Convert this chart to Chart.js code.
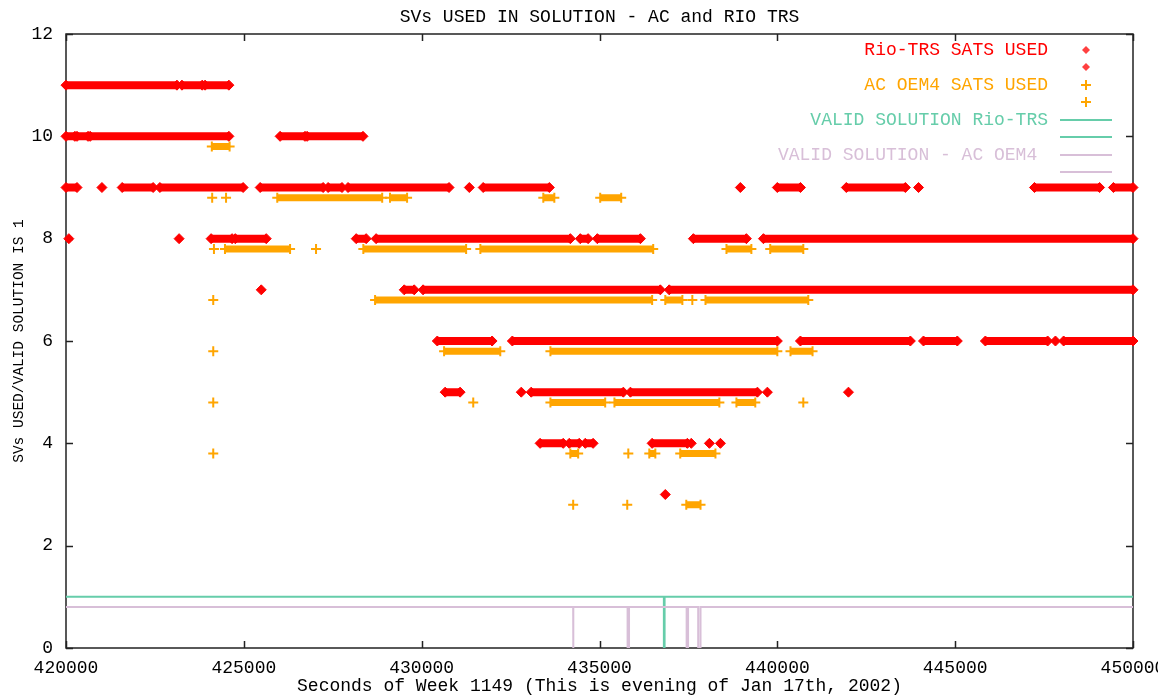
<!DOCTYPE html>
<html>
<head>
<meta charset="utf-8">
<title>SVs USED IN SOLUTION - AC and RIO TRS</title>
<script src="https://cdn.jsdelivr.net/npm/chart.js@4.4.1/dist/chart.umd.min.js"></script>
<style>
  html, body { margin: 0; padding: 0; background: #fff; }
  #wrap { width: 1158px; height: 698px; }
</style>
</head>
<body>
<div id="wrap"><canvas id="svChart" width="1158" height="698"></canvas></div>
<script>
// axis ticks
const xTicks = [420000, 425000, 430000, 435000, 440000, 445000, 450000];
const yTicks = [0, 2, 4, 6, 8, 10, 12];

// Rio-TRS sats used: one list of [start, end] runs (or [t] for a lone sample) per level
const rioLevels = [11, 10, 9, 8, 7, 6, 5, 4, 3];
const rioRuns = [
  [[420000, 423120], [423260, 423830], [423910, 424580]],
  [[420000, 420250], [420310, 420620], [420680, 424580], [426020, 426720], [426780, 428350]],
  [[420000, 420310], [421010], [421580, 422450], [422640, 424980], [425460, 427230], [427370, 427760],
   [427930, 430770], [431340], [431730, 433590], [438960], [440000, 440650], [441940, 443600],
   [443970], [447230, 449060], [449450, 450000]],
  [[420080], [423180], [424080, 424670], [424760, 425630], [428160, 428440], [428720, 434180],
   [434460, 434680], [434940, 436150], [437640, 439130], [439610, 450000]],
  [[425490], [429510, 429790], [430040, 436710], [436960, 450000]],
  [[430440, 431980], [432550, 440000], [440650, 443740], [444110, 445060], [445850, 447600],
   [447820], [448050, 450000]],
  [[430660, 431080], [432800], [433080, 435670], [435870, 439440], [439720], [442000]],
  [[433330, 433980], [434150, 434430], [434600, 434820], [436480, 437470], [437580], [438090], [438400]],
  [[436850]]
];

// AC OEM4 sats used (plotted 0.2 below the integer count)
const acLevels = [9.8, 8.8, 7.8, 6.8, 5.8, 4.8, 3.8, 2.8];
const acRuns = [
  [[424100, 424600]],
  [[424110], [424500], [425940, 428890], [429110, 429590], [433420, 433730], [435020, 435610]],
  [[424160], [424470, 426300], [427030], [428360, 431250], [431650, 436510], [438570, 439270], [439800, 440730]],
  [[424140], [428690, 436480], [436850, 437330], [437610], [437980, 440870]],
  [[424140], [430630, 432210], [433620, 440000], [440370, 440990]],
  [[424140], [431450], [433620, 435160], [435420, 438370], [438850, 439380], [440730]],
  [[424140], [434180, 434400], [435810], [436400, 436570], [437270, 438260]],
  [[434260], [435780], [437440, 437840]]
];

// valid solution flags: level while valid, drops to 0 inside these intervals
const rioValidLevel = 1;
const rioValidDrops = [[436810, 436830]];
const acValidLevel = 0.8;
const acValidDrops = [[434260, 434265], [435790, 435830], [437450, 437490], [437775, 437840]];

const legendLabels = ["Rio-TRS SATS USED", "AC OEM4 SATS USED", "VALID SOLUTION Rio-TRS", "VALID SOLUTION - AC OEM4 "];

const RED = "#ff0000";
const ORANGE = "#ffa500";
const GREEN = "#66cdaa";
const PURPLE = "#d8bfd8";
const FONT = "'Liberation Mono', 'DejaVu Sans Mono', monospace";

const runsToPoints = (levels, runs) => {
  const pts = [];
  levels.forEach((y, i) => {
    runs[i].forEach((r) => {
      const a = r[0];
      const b = r.length > 1 ? r[1] : r[0];
      pts.push({ x: a, y: y });
      if (b !== a) pts.push({ x: b, y: y });
      pts.push({ x: b, y: null });
    });
  });
  return pts;
};

const stepPoints = (level, drops) => {
  const pts = [{ x: xTicks[0], y: level }];
  drops.forEach((d) => {
    pts.push({ x: d[0], y: level }, { x: d[0], y: 0 }, { x: d[1], y: 0 }, { x: d[1], y: level });
  });
  pts.push({ x: xTicks[xTicks.length - 1], y: level });
  return pts;
};

// border, inward ticks, title and key the way gnuplot draws them
const gnuplotFrame = {
  id: "gnuplotFrame",
  beforeDraw(chart) {
    const ctx = chart.ctx;
    ctx.save();
    ctx.fillStyle = "#fff";
    ctx.fillRect(0, 0, chart.width, chart.height);
    ctx.restore();
  },
  beforeDatasetsDraw(chart) {
    const { ctx, chartArea: a, scales } = chart;
    const tl = 7;
    ctx.save();
    ctx.strokeStyle = "#222";
    ctx.lineWidth = 1.5;
    ctx.strokeRect(a.left, a.top, a.right - a.left, a.bottom - a.top);
    ctx.beginPath();
    xTicks.forEach((v) => {
      const px = Math.round(scales.x.getPixelForValue(v)) + 0.5;
      ctx.moveTo(px, a.bottom); ctx.lineTo(px, a.bottom - tl);
      ctx.moveTo(px, a.top); ctx.lineTo(px, a.top + tl);
    });
    yTicks.forEach((v) => {
      const py = Math.round(scales.y.getPixelForValue(v)) + 0.5;
      ctx.moveTo(a.left, py); ctx.lineTo(a.left + tl, py);
      ctx.moveTo(a.right, py); ctx.lineTo(a.right - tl, py);
    });
    ctx.stroke();
    ctx.restore();
  },
  afterDraw(chart) {
    const { ctx, chartArea: a } = chart;
    ctx.save();
    ctx.font = "18px " + FONT;
    ctx.fillStyle = "#000";
    ctx.textAlign = "center";
    ctx.textBaseline = "middle";
    ctx.fillText("SVs USED IN SOLUTION - AC and RIO TRS", (a.left + a.right) / 2, 17);

    // key
    const textX = a.right - 85;
    const sampleX = a.right - 47;
    const colors = [RED, ORANGE, GREEN, PURPLE];
    ctx.textAlign = "right";
    legendLabels.forEach((label, i) => {
      const y = a.top + 16 + i * 35;
      ctx.fillStyle = colors[i];
      ctx.fillText(label, textX, y);
      [y, y + 17].forEach((sy) => {
        ctx.beginPath();
        if (i === 0) {
          ctx.moveTo(sampleX - 4, sy); ctx.lineTo(sampleX, sy - 4);
          ctx.lineTo(sampleX + 4, sy); ctx.lineTo(sampleX, sy + 4);
          ctx.closePath();
          ctx.fillStyle = RED;
          ctx.globalAlpha = 0.75;
          ctx.fill();
          ctx.globalAlpha = 1;
        } else if (i === 1) {
          ctx.strokeStyle = ORANGE;
          ctx.lineWidth = 2;
          ctx.moveTo(sampleX - 5, sy); ctx.lineTo(sampleX + 5, sy);
          ctx.moveTo(sampleX, sy - 5); ctx.lineTo(sampleX, sy + 5);
          ctx.stroke();
        } else {
          ctx.strokeStyle = colors[i];
          ctx.lineWidth = 2;
          ctx.moveTo(sampleX - 26, sy); ctx.lineTo(sampleX + 26, sy);
          ctx.stroke();
        }
      });
    });
    ctx.restore();
  },
};

const ctx = document.getElementById("svChart");

new Chart(ctx, {
  type: "line",
  data: {
    datasets: [
      {
        label: legendLabels[3],
        data: stepPoints(acValidLevel, acValidDrops),
        borderColor: PURPLE,
        borderWidth: 2,
        pointRadius: 0,
        order: 1,
      },
      {
        label: legendLabels[2],
        data: stepPoints(rioValidLevel, rioValidDrops),
        borderColor: GREEN,
        borderWidth: 2,
        pointRadius: 0,
        order: 2,
      },
      {
        label: legendLabels[1],
        data: runsToPoints(acLevels, acRuns),
        borderColor: ORANGE,
        borderWidth: 7,
        borderCapStyle: "butt",
        pointStyle: "cross",
        pointRadius: 5,
        pointBorderWidth: 2,
        pointBorderColor: ORANGE,
        spanGaps: false,
        clip: false,
        order: 3,
      },
      {
        label: legendLabels[0],
        data: runsToPoints(rioLevels, rioRuns),
        borderColor: RED,
        borderWidth: 8,
        borderCapStyle: "butt",
        pointStyle: "rectRot",
        pointRadius: 5,
        pointBorderWidth: 1,
        pointBackgroundColor: RED,
        pointBorderColor: RED,
        spanGaps: false,
        clip: false,
        order: 4,
      },
    ],
  },
  options: {
    responsive: false,
    animation: false,
    devicePixelRatio: 1,
    layout: {
      padding: { left: 10, right: 25, top: 34, bottom: 1 },
    },
    elements: {
      line: { tension: 0 },
    },
    plugins: {
      legend: { display: false },
      tooltip: { enabled: false },
      title: { display: false },
    },
    scales: {
      x: {
        type: "linear",
        min: xTicks[0],
        max: xTicks[xTicks.length - 1],
        afterBuildTicks: (scale) => {
          scale.ticks = xTicks.map((v) => ({ value: v }));
        },
        afterFit: (scale) => {
          // gnuplot lets the last label run off the image
          scale.paddingLeft = 0;
          scale.paddingRight = 0;
          scale.height = 49;
        },
        grid: { display: false, drawTicks: false },
        border: { display: false },
        ticks: {
          autoSkip: false,
          maxRotation: 0,
          padding: 11,
          color: "#000",
          font: { family: FONT, size: 18, lineHeight: 1 },
          callback: (value) => String(value),
        },
        title: {
          display: true,
          text: "Seconds of Week 1149 (This is evening of Jan 17th, 2002)",
          color: "#000",
          font: { family: FONT, size: 18, lineHeight: 1 },
          padding: { top: 0, bottom: 2 },
        },
      },
      y: {
        min: yTicks[0],
        max: yTicks[yTicks.length - 1],
        afterBuildTicks: (scale) => {
          scale.ticks = yTicks.map((v) => ({ value: v }));
        },
        afterFit: (scale) => {
          scale.width = 56;
        },
        grid: { display: false, drawTicks: false },
        border: { display: false },
        ticks: {
          padding: 13,
          color: "#000",
          font: { family: FONT, size: 18, lineHeight: 1 },
        },
        title: {
          display: true,
          text: "SVs USED/VALID SOLUTION IS 1",
          color: "#000",
          font: { family: FONT, size: 14.5, lineHeight: 1.2 },
          padding: { top: 0, bottom: 4 },
        },
      },
    },
  },
  plugins: [gnuplotFrame],
});
</script>
</body>
</html>
